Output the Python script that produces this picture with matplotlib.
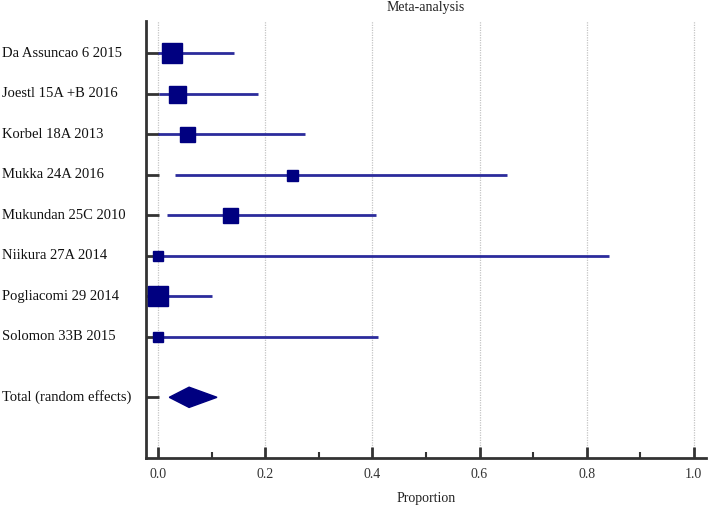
import matplotlib
matplotlib.use("Agg")
import matplotlib.pyplot as plt
from matplotlib.transforms import blended_transform_factory
from matplotlib.patches import Polygon

studies = ["Da Assuncao 6 2015", "Joestl 15A +B 2016", "Korbel 18A 2013", "Mukka 24A 2016",
           "Mukundan 25C 2010", "Niikura 27A 2014", "Pogliacomi 29 2014", "Solomon 33B 2015"]
prop = [0.027, 0.036, 0.055, 0.250, 0.134, 0.000, 0.000, 0.000]
ci_low = [0.000, 0.001, 0.000, 0.032, 0.016, 0.000, 0.000, 0.000]
ci_high = [0.141, 0.186, 0.275, 0.651, 0.406, 0.842, 0.100, 0.411]
box_px = [20, 17, 15, 11, 15, 10, 20, 10]
total_label = "Total (random effects)"
total_est = 0.058
total_low = 0.021
total_high = 0.110
xticks = [0.0, 0.2, 0.4, 0.6, 0.8, 1.0]
xtick_labels = ["0.0", "0.2", "0.4", "0.6", "0.8", "1.0"]

plt.rcParams['font.family'] = ['Liberation Serif', 'DejaVu Serif']

fig = plt.figure(figsize=(7.09, 5.05), dpi=100)
ax = fig.add_axes([0.2055, 0.093, 0.7905, 0.865])

line_col = "#2b2b9c"
box_col = "#000080"
spine_col = "#333333"

ys = list(range(len(studies)))
y_total = len(studies) - 1 + 1.5

for x in xticks:
    ax.axvline(x, color="#c4c4c4", lw=0.9, ls=(0, (1, 1)), zorder=0)

for i, y in enumerate(ys):
    ax.plot([ci_low[i], ci_high[i]], [y, y], color=line_col, lw=2, solid_capstyle="butt", zorder=2)
    ax.plot(prop[i], y, marker="s", ms=box_px[i] * 0.72, color=box_col, mec=box_col, zorder=3)

dh = 0.25
diamond = Polygon([[total_low, y_total], [total_est, y_total - dh],
                   [total_high, y_total], [total_est, y_total + dh]],
                  closed=True, color=box_col, zorder=3)
ax.add_patch(diamond)

ax.set_xlim(-0.023, 1.023)
ax.set_ylim(10.0, -0.79)

ax.spines['top'].set_visible(False)
ax.spines['right'].set_visible(False)
for s in ['left', 'bottom']:
    ax.spines[s].set_color(spine_col)
    ax.spines[s].set_linewidth(2)

ax.set_xticks(xticks)
ax.set_xticklabels(xtick_labels, fontsize=10, color="#333333")
ax.set_xticks([0.1, 0.3, 0.5, 0.7, 0.9], minor=True)
ax.tick_params(axis='x', which='major', direction='in', length=8, width=2, color=spine_col, pad=7)
ax.tick_params(axis='x', which='minor', direction='in', length=4, width=1.5, color=spine_col)

ax.set_yticks(ys + [y_total])
ax.set_yticklabels([])
ax.tick_params(axis='y', which='major', direction='in', length=9, width=2, color=spine_col)

tr = blended_transform_factory(fig.transFigure, ax.transData)
for lab, y in zip(studies + [total_label], ys + [y_total]):
    ax.text(0.003, y, lab, transform=tr, ha='left', va='center', fontsize=10.5, color="#111111")

ax.set_title("Meta-analysis", fontsize=10, color="#222222", pad=7)
ax.set_xlabel("Proportion", fontsize=10, color="#222222", labelpad=8)

fig.savefig("out.png", dpi=100)
